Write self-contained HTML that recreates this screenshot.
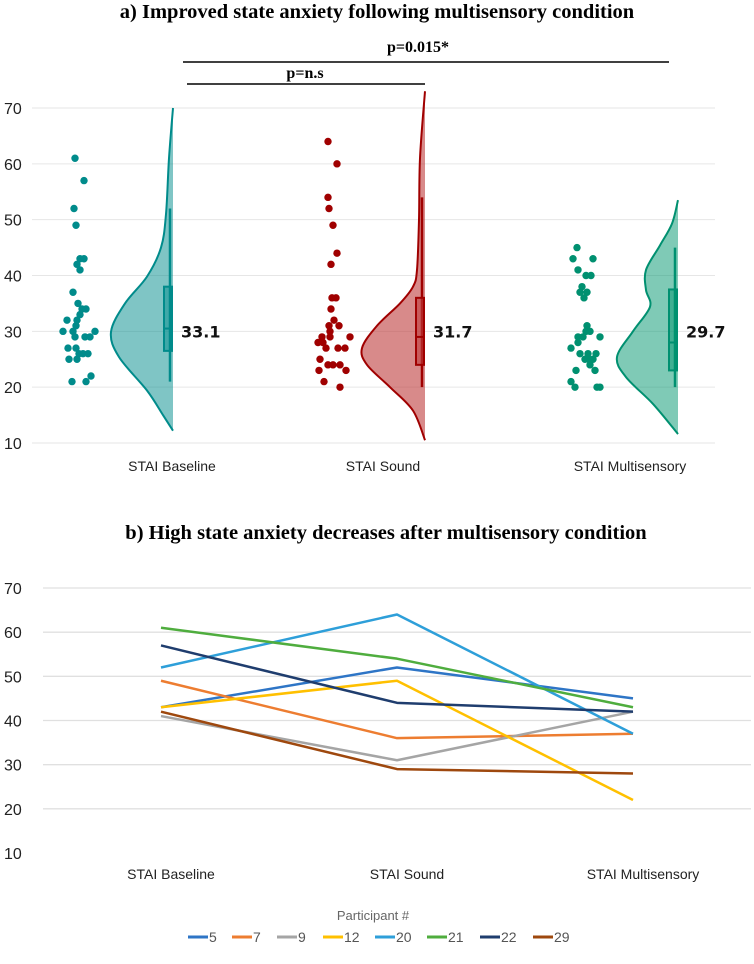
<!DOCTYPE html>
<html><head><meta charset="utf-8"><style>
body{margin:0;background:#fff;}
svg{display:block;}
</style></head><body>
<svg id="fig" width="754" height="964" viewBox="0 0 754 964" xmlns="http://www.w3.org/2000/svg">
<text x="377" y="18" text-anchor="middle" font-family="Liberation Serif, serif" font-weight="bold" font-size="20.5">a) Improved state anxiety following multisensory condition</text>
<line x1="183" y1="62" x2="669" y2="62" stroke="#000" stroke-width="1.5"/>
<text x="418" y="52" text-anchor="middle" font-family="Liberation Serif, serif" font-weight="bold" font-size="16">p=0.015*</text>
<line x1="187" y1="84" x2="425" y2="84" stroke="#000" stroke-width="1.5"/>
<text x="305" y="78" text-anchor="middle" font-family="Liberation Serif, serif" font-weight="bold" font-size="16">p=n.s</text>
<g id="topChart"></g>
<text x="386" y="539" text-anchor="middle" font-family="Liberation Serif, serif" font-weight="bold" font-size="20.5">b) High state anxiety decreases after multisensory condition</text>
<g id="botChart"></g>
</svg>
<script>
const NS="http://www.w3.org/2000/svg";
// ---- top chart data ----
const topCategories=["STAI Baseline","STAI Sound","STAI Multisensory"];
const topMeans=["33.1","31.7","29.7"];
const topTicks=[10,20,30,40,50,60,70];
const baselineDots=[[61,75],[57,84],[52,74],[49,76],[43,80],[43,84],[42,77],[41,80],[37,73],[35,78],[34,82],[34,86],[33,80],[32,67],[32,77],[31,76],[30,63],[30,73],[30,95],[29,75],[29,85],[29,90],[27,68],[27,76],[26,79],[26,83],[26,88],[25,69],[25,77],[22,91],[21,72],[21,86]];
const soundDots=[[64,328],[60,337],[54,328],[52,329],[49,333],[44,337],[42,331],[36,332],[36,336],[34,331],[32,334],[31,329],[31,339],[30,330],[29,322],[29,330],[29,350],[28,318],[28,323],[27,326],[27,338],[27,345],[25,320],[24,328],[24,333],[24,340],[23,319],[23,346],[21,324],[20,340]];
const multiDots=[[45,577],[43,573],[43,593],[41,578],[40,586],[40,591],[38,582],[37,580],[37,587],[36,584],[31,587],[30,586],[30,590],[29,578],[29,583],[29,600],[28,578],[27,571],[26,580],[26,588],[26,596],[25,585],[25,589],[25,593],[24,590],[23,576],[23,595],[21,571],[20,575],[20,597],[20,600]];
const baselineViolin=[[12.2,0],[15,10],[19.4,26],[25.4,54],[29.9,62],[35,48],[39.8,26],[45,12],[51,7],[61,4],[70,0]];
const soundViolin=[[10.5,0],[15.8,12],[20,35],[24,58],[27,63],[31,48],[35,25],[38,12],[41,8],[50,6],[61,5],[73,0]];
const multiViolin=[[11.6,0],[17,25],[21.8,52],[25.4,61],[30,45],[34.4,28],[37.4,32],[41,32],[45.4,18],[49.3,6],[53.5,0]];
const baselineBox=[21,26.5,30.5,38,52];
const soundBox=[20,24,29,36,54];
const multiBox=[20,23,28,37.5,45];

const yTop=v=>443-(v-10)*(335/60);
const tg=document.getElementById('topChart');
function mk(tag,attrs,parent){const e=document.createElementNS(NS,tag);for(const k in attrs)e.setAttribute(k,attrs[k]);parent.appendChild(e);return e;}
topTicks.forEach(t=>{
  const l=mk('line',{x1:32,x2:715,y1:yTop(t),y2:yTop(t),stroke:'#e6e6e6','stroke-width':1},tg);
  
  
  const tx=mk('text',{x:4,y:yTop(t)+6,'font-family':'Liberation Sans, sans-serif','font-size':16,fill:'#222'},tg);
  tx.textContent=t;
  
  
});
function smoothPath(pts){
  let d='M'+pts[0][0]+','+pts[0][1];
  for(let i=0;i<pts.length-1;i++){
    const p0=pts[Math.max(0,i-1)],p1=pts[i],p2=pts[i+1],p3=pts[Math.min(pts.length-1,i+2)];
    const c1=[p1[0]+(p2[0]-p0[0])/6,p1[1]+(p2[1]-p0[1])/6];
    const c2=[p2[0]-(p3[0]-p1[0])/6,p2[1]-(p3[1]-p1[1])/6];
    d+=' C'+c1[0]+','+c1[1]+' '+c2[0]+','+c2[1]+' '+p2[0]+','+p2[1];
  }
  return d;
}
const groups=[
 {dots:baselineDots,violin:baselineViolin,box:baselineBox,edge:173,stroke:'#008b8b',fill:'rgba(0,139,139,0.5)',dot:'#008b8b',label:172,name:'baseline'},
 {dots:soundDots,violin:soundViolin,box:soundBox,edge:425,stroke:'#a00000',fill:'rgba(190,60,60,0.6)',dot:'#a00000',label:383,name:'sound'},
 {dots:multiDots,violin:multiViolin,box:multiBox,edge:678,stroke:'#009070',fill:'rgba(0,150,110,0.5)',dot:'#009070',label:630,name:'multisensory'}
];
groups.forEach((g,i)=>{
  const pts=g.violin.map(p=>[g.edge-p[1],yTop(p[0])]);
  const d=smoothPath(pts)+' Z';
  const v=mk('path',{d:d,fill:g.fill,stroke:'none'},tg);
  
  
  const o=mk('path',{d:smoothPath(pts),fill:'none',stroke:g.stroke,'stroke-width':2},tg);
  
  
  const b=g.box;
  const w=mk('line',{x1:g.edge-3,x2:g.edge-3,y1:yTop(b[0]),y2:yTop(b[4]),stroke:g.stroke,'stroke-width':2.5},tg);
  
  
  const r=mk('rect',{x:g.edge-9,y:yTop(b[3]),width:8,height:yTop(b[1])-yTop(b[3]),fill:g.fill,stroke:g.stroke,'stroke-width':2},tg);
  
  
  const m=mk('line',{x1:g.edge-9,x2:g.edge-1,y1:yTop(b[2]),y2:yTop(b[2]),stroke:g.stroke,'stroke-width':2},tg);
  
  
  g.dots.forEach(p=>{
    const c=mk('circle',{cx:p[1],cy:yTop(p[0]),r:3.7,fill:g.dot},tg);
    
    
  });
  const mt=mk('text',{x:g.edge+8,y:yTop(30)+6,'font-family':'DejaVu Sans, sans-serif','font-weight':'bold','font-size':16,fill:'#111'},tg);
  mt.textContent=topMeans[i];
  
  
  const cl=mk('text',{x:g.label,y:471,'text-anchor':'middle','font-family':'Liberation Sans, sans-serif','font-size':14,fill:'#222'},tg);
  cl.textContent=topCategories[i];
  
  
});

// ---- bottom chart data ----
const botCategories=["STAI Baseline","STAI Sound","STAI Multisensory"];
const participants=["5","7","9","12","20","21","22","29"];
const p5=[43,52,45];
const p7=[49,36,37];
const p9=[41,31,42];
const p12=[43,49,22];
const p20=[52,64,37];
const p21=[61,54,43];
const p22=[57,44,42];
const p29=[42,29,28];
const botTicks=[10,20,30,40,50,60,70];
const series=[p5,p7,p9,p12,p20,p21,p22,p29];
const colors=['#2e75c6','#ed7d31','#a5a5a5','#ffc000','#2e9fd9','#4fad3e','#1f3d6e','#9e480e'];
const yBot=v=>853-(v-10)*(265/60);
const xBot=i=>161+i*236;
const bg=document.getElementById('botChart');
botTicks.forEach(t=>{
  if(t>10){
    const l=mk('line',{x1:43,x2:751,y1:yBot(t),y2:yBot(t),stroke:'#e0e0e0','stroke-width':1.3},bg);
    
    
  }
  const tx=mk('text',{x:4,y:yBot(t)+6,'font-family':'Liberation Sans, sans-serif','font-size':16,fill:'#222'},bg);
  tx.textContent=t;
  
  
});
botCategories.forEach((c,i)=>{
  const t=mk('text',{x:xBot(i)+10,y:879,'text-anchor':'middle','font-family':'Liberation Sans, sans-serif','font-size':14,fill:'#222'},bg);
  t.textContent=c;
  
  
});
series.forEach((s,k)=>{
  const pl=mk('polyline',{points:s.map((v,i)=>xBot(i)+','+yBot(v)).join(' '),fill:'none',stroke:colors[k],'stroke-width':2.5,'stroke-linejoin':'round'},bg);
  
  
});
const lt=mk('text',{x:373,y:920,'text-anchor':'middle','font-family':'Liberation Sans, sans-serif','font-size':13,fill:'#666'},bg);
lt.textContent='Participant #';


const legX=[188,232,277,323,375,427,480,533];
participants.forEach((p,k)=>{
  const x=legX[k];
  const l=mk('line',{x1:x,x2:x+20,y1:937,y2:937,stroke:colors[k],'stroke-width':3},bg);
  
  
  const t=mk('text',{x:x+21,y:942,'font-family':'Liberation Sans, sans-serif','font-size':14,fill:'#555'},bg);
  t.textContent=p;
  
  
});
</script>
</body></html>
